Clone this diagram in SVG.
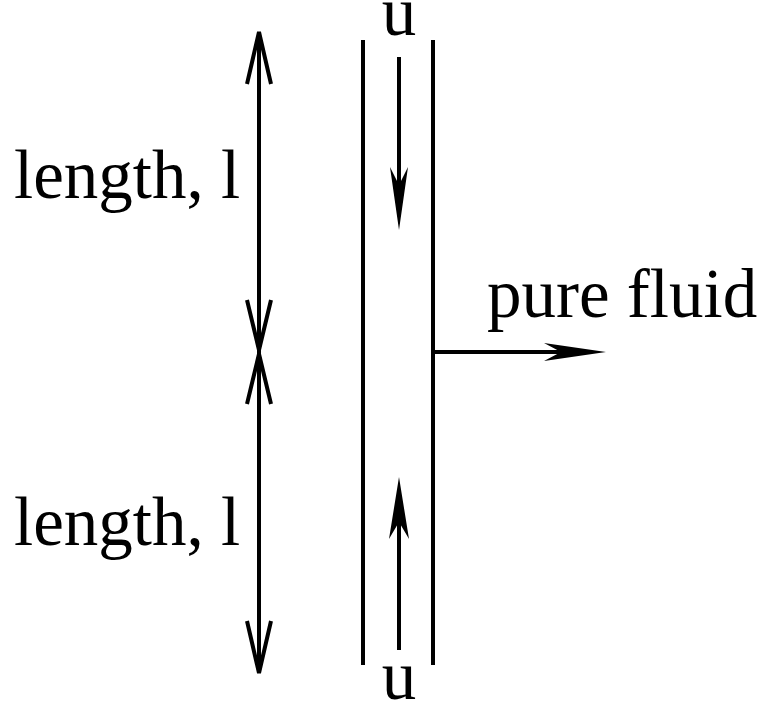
<svg xmlns="http://www.w3.org/2000/svg" width="762" height="706" viewBox="0 0 762 706">
<style>
.t{font-family:'Liberation Serif','Times New Roman','DejaVu Serif',serif;font-size:69px;fill:#000}
.ln{stroke:#000;stroke-width:4;fill:none}
.hd{stroke:#000;stroke-width:4;fill:none;stroke-linecap:butt}
.fh{fill:#000;stroke:none}
</style>
<rect width="762" height="706" fill="#fff"/>
<g id="tube">
<line class="ln" x1="363" y1="40" x2="363" y2="665"/>
<line class="ln" x1="433" y1="40" x2="433" y2="665"/>
</g>
<g id="connectors">
<line class="ln" x1="259" y1="32" x2="259" y2="673"/>
<polyline class="hd" points="247,84 259,32 271,84"/>
<polyline class="hd" points="247,300 259,350 271,300"/>
<polyline class="hd" points="247,404 259,354 271,404"/>
<polyline class="hd" points="247,621 259,673 271,621"/>
<line class="ln" x1="399" y1="57" x2="399" y2="200"/>
<path class="fh" d="M399,230 L390,167 L399,185 L408,167 Z"/>
<line class="ln" x1="399" y1="650" x2="399" y2="505"/>
<path class="fh" d="M399,477 L389,539 L399,522 L409,539 Z"/>
<line class="ln" x1="433" y1="352" x2="580" y2="352"/>
<path class="fh" d="M606,352 L544,343 L561,352 L544,361 Z"/>
</g>
<g id="label-top-u"><text class="t" x="399" y="35" text-anchor="middle">u</text></g>
<g id="label-bottom-u"><text class="t" x="399" y="699" text-anchor="middle">u</text></g>
<g id="label-length-1"><text class="t" x="14" y="198">length, l</text></g>
<g id="label-length-2"><text class="t" x="14" y="545">length, l</text></g>
<g id="label-pure-fluid"><text class="t" x="487" y="317">pure fluid</text></g>
</svg>
